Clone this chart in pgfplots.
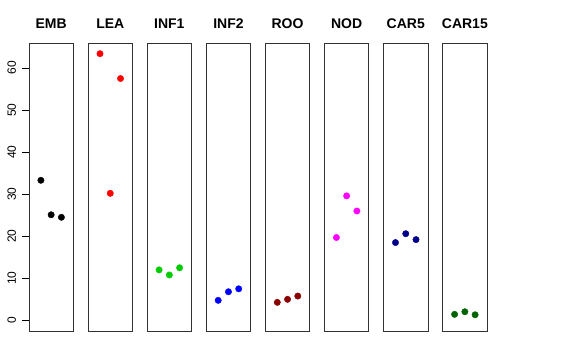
\documentclass[border=0pt]{standalone}
\usepackage{pgfplots}
\pgfplotsset{compat=1.18}
\usepackage{fontspec}
\setmainfont{Liberation Sans}
\definecolor{green3}{HTML}{00CD00}
\definecolor{darkred}{HTML}{8B0000}
\definecolor{darkblue}{HTML}{00008B}
\definecolor{darkgreen}{HTML}{006400}
\definecolor{rmagenta}{HTML}{FF00FF}
\pgfplotsset{panel/.style={scale only axis, width=44.3pt, height=287.7pt,
  xmin=-0.16, xmax=4.16, ymin=-2.53, ymax=65.87, xtick=\empty, ytick=\empty,
  axis line style={black!80, line width=0.8pt}, anchor=south west, clip=false,
  title style={at={(0.5,1)}, anchor=base, yshift=9.3pt, font=\bfseries\fontsize{14}{16}\selectfont},
  every axis plot/.append style={only marks, mark=*, mark size=3.2pt}}}
\begin{document}
\begin{tikzpicture}[x=1pt,y=1pt]
\path[use as bounding box] (0,0) rectangle (576,360);
\begin{axis}[panel, at={(29pt,29pt)}, title={EMB}, ytick={0,10,...,60}, ytick pos=left,
  tick align=outside, major tick length=7pt, tick style={black, line width=0.8pt},
  /pgf/number format/assume math mode=true,
  yticklabel style={xshift=-2.5pt, rotate=90, anchor=south, font=\fontsize{12}{14}\selectfont}]
\addplot[black, mark options={fill=black}] coordinates {(1,33.3)(2,25.1)(3,24.5)};
\end{axis}
\begin{axis}[panel, at={(88.1pt,29pt)}, title={LEA}]
\addplot[red, mark options={fill=red}] coordinates {(1,63.4)(2,30.2)(3,57.5)};
\end{axis}
\begin{axis}[panel, at={(147.2pt,29pt)}, title={INF1}]
\addplot[green3, mark options={fill=green3}] coordinates {(1,12.0)(2,10.8)(3,12.5)};
\end{axis}
\begin{axis}[panel, at={(206.3pt,29pt)}, title={INF2}]
\addplot[blue, mark options={fill=blue}] coordinates {(1,4.76)(2,6.8)(3,7.5)};
\end{axis}
\begin{axis}[panel, at={(265.4pt,29pt)}, title={ROO}]
\addplot[darkred, mark options={fill=darkred}] coordinates {(1,4.28)(2,5.0)(3,5.78)};
\end{axis}
\begin{axis}[panel, at={(324.5pt,29pt)}, title={NOD}]
\addplot[rmagenta, mark options={fill=rmagenta}] coordinates {(1,19.7)(2,29.6)(3,26.0)};
\end{axis}
\begin{axis}[panel, at={(383.6pt,29pt)}, title={CAR5}]
\addplot[darkblue, mark options={fill=darkblue}] coordinates {(1,18.5)(2,20.6)(3,19.2)};
\end{axis}
\begin{axis}[panel, at={(442.7pt,29pt)}, title={CAR15}]
\addplot[darkgreen, mark options={fill=darkgreen}] coordinates {(1,1.43)(2,2.05)(3,1.33)};
\end{axis}
\end{tikzpicture}
\end{document}
